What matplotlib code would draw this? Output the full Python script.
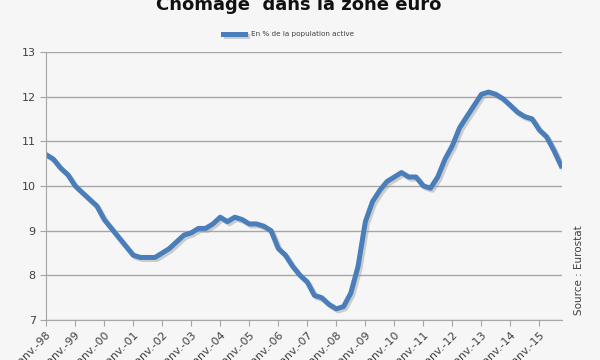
import numpy as np
import pandas as pd
import matplotlib
matplotlib.use("Agg")
import matplotlib.pyplot as plt
import matplotlib.patheffects as pe

# Taux de chomage zone euro (%), valeurs trimestrielles
debut = "1998-01-01"
taux = [10.7, 10.6, 10.4, 10.25,
        10.0, 9.85, 9.7, 9.55,
        9.25, 9.05, 8.85, 8.65,
        8.45, 8.4, 8.4, 8.4,
        8.5, 8.6, 8.75, 8.9,
        8.95, 9.05, 9.05, 9.15,
        9.3, 9.2, 9.3, 9.25,
        9.15, 9.15, 9.1, 9.0,
        8.6, 8.45, 8.2, 8.0,
        7.85, 7.55, 7.5, 7.35,
        7.25, 7.3, 7.6, 8.2,
        9.2, 9.65, 9.9, 10.1,
        10.2, 10.3, 10.2, 10.2,
        10.0, 9.95, 10.2, 10.6,
        10.9, 11.3, 11.55, 11.8,
        12.05, 12.1, 12.05, 11.95,
        11.8, 11.65, 11.55, 11.5,
        11.25, 11.1, 10.8, 10.45]
annees = list(range(1998, 2016))
etiquettes = ["janv.-%02d" % (a % 100) for a in annees]
y_ticks = [7, 8, 9, 10, 11, 12, 13]

dates = pd.date_range(debut, periods=len(taux), freq="QS")

fig = plt.figure(figsize=(6, 3.6), dpi=100, facecolor="#f6f6f6")
ax = fig.add_axes([0.077, 0.111, 0.86, 0.745])
ax.set_facecolor("#f6f6f6")

ax.plot(dates, taux, color="#4a7ebb", lw=3.6, solid_joinstyle="round",
        path_effects=[pe.SimpleLineShadow(offset=(1.5, -1.5), shadow_color="#999999", alpha=0.45),
                      pe.Normal()],
        label="En % de la population active")

ax.set_ylim(7, 13)
ax.set_yticks(y_ticks)
ax.set_xlim(pd.Timestamp("1998-01-01"), pd.Timestamp("2015-10-15"))
ax.set_xticks([pd.Timestamp("%d-01-01" % a) for a in annees])
ax.set_xticklabels(etiquettes, rotation=45, ha="right", rotation_mode="anchor")
ax.yaxis.grid(True, color="#a6a6a6", lw=1)
ax.set_axisbelow(True)
for s in ["top", "right"]:
    ax.spines[s].set_visible(False)
ax.spines["left"].set_color("#a6a6a6")
ax.spines["bottom"].set_color("#a6a6a6")
ax.tick_params(axis="both", colors="#a6a6a6", labelcolor="#404040", labelsize=8, length=4)

fig.text(0.497, 0.985, "Chomage  dans la zone euro", ha="center", va="center",
         fontsize=13, fontweight="bold", color="#111111")
ax.legend(loc="lower center", bbox_to_anchor=(0.47, 1.03), frameon=False, fontsize=5.2,
          handlelength=3, labelcolor="#404040")
fig.text(0.965, 0.25, "Source : Eurostat", rotation=90, ha="center", va="center",
         fontsize=7.5, color="#404040")

fig.savefig("out.png", dpi=100, facecolor=fig.get_facecolor())
